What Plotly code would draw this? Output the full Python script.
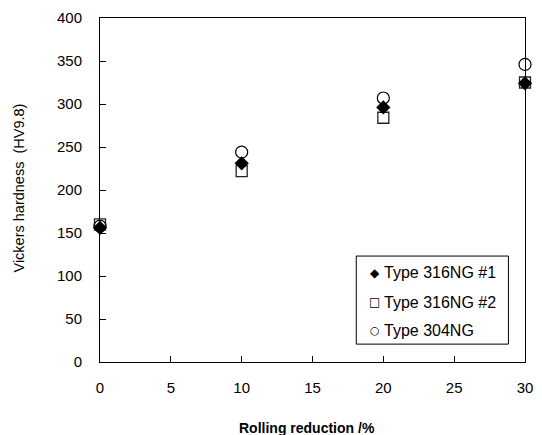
import plotly.graph_objects as go

# Rolling reduction (%) and Vickers hardness (HV9.8) per material
reduction = [0, 10, 20, 30]
hv_316ng_1 = [156, 231, 296, 324]
hv_316ng_2 = [160, 222, 284, 325]
hv_304ng = [158, 244, 307, 346]

series_names = ["Type 316NG #1", "Type 316NG #2", "Type 304NG"]
legend_glyphs = ["\u25C6", "\u25A1", "\u25CB"]

FONT = "Liberation Sans, Arial, sans-serif"

fig = go.Figure()

fig.add_trace(go.Scatter(
    x=reduction, y=hv_316ng_2, mode="markers", name=series_names[1], showlegend=False,
    marker=dict(symbol="square-open", size=11, color="#222222", line=dict(width=1.3)),
    cliponaxis=False,
))
fig.add_trace(go.Scatter(
    x=reduction, y=hv_304ng, mode="markers", name=series_names[2], showlegend=False,
    marker=dict(symbol="circle-open", size=12, color="black", line=dict(width=1.2)),
    cliponaxis=False,
))
fig.add_trace(go.Scatter(
    x=reduction, y=hv_316ng_1, mode="markers", name=series_names[0], showlegend=False,
    marker=dict(symbol="diamond", size=11, color="black"),
    cliponaxis=False,
))

axis_common = dict(
    showline=True, linecolor="black", linewidth=1, mirror=True,
    ticks="inside", ticklen=6, tickcolor="black", tickwidth=1,
    showgrid=False, zeroline=False,
    tickfont=dict(family=FONT, size=15, color="black"),
)

fig.update_xaxes(range=[0, 30], tickvals=[0, 5, 10, 15, 20, 25, 30],
                 ticklabelstandoff=12, **axis_common)
fig.update_yaxes(range=[0, 400], tickvals=[0, 50, 100, 150, 200, 250, 300, 350, 400],
                 ticklabelstandoff=14, **axis_common)

# Axis titles
fig.add_annotation(text="<b>Rolling reduction /%</b>", xref="paper", yref="paper",
                   x=0.487, y=-0.192, xanchor="center", yanchor="middle", showarrow=False,
                   font=dict(family=FONT, size=14, color="black"))
fig.add_annotation(text="Vickers hardness  (HV9.8)", xref="paper", yref="paper",
                   x=-0.19, y=0.505, xanchor="center", yanchor="middle", textangle=-90,
                   showarrow=False, font=dict(family=FONT, size=14.5, color="black"))

# Boxed key in the lower right corner
box_x0, box_x1, box_y0, box_y1 = 0.603, 0.961, 0.052, 0.308
fig.add_shape(type="rect", xref="paper", yref="paper",
              x0=box_x0, x1=box_x1, y0=box_y0, y1=box_y1,
              line=dict(color="black", width=1), fillcolor="white", layer="above")
row_y = [0.259, 0.174, 0.093]
glyph_sizes = [12, 12, 11]
for name, glyph, gsize, yy in zip(series_names, legend_glyphs, glyph_sizes, row_y):
    fig.add_annotation(text=glyph, xref="paper", yref="paper", x=0.647, y=yy,
                       xanchor="center", yanchor="middle", showarrow=False,
                       font=dict(family="DejaVu Sans", size=gsize, color="black"))
    fig.add_annotation(text=name, xref="paper", yref="paper", x=0.664, y=yy,
                       xanchor="left", yanchor="middle", showarrow=False,
                       font=dict(family=FONT, size=16, color="black"))

fig.update_layout(
    width=542, height=435,
    margin=dict(l=100, r=9, t=18, b=73),
    paper_bgcolor="white", plot_bgcolor="white",
    font=dict(family=FONT, size=14, color="black"),
    showlegend=False,
)

fig.write_html("out.html")
